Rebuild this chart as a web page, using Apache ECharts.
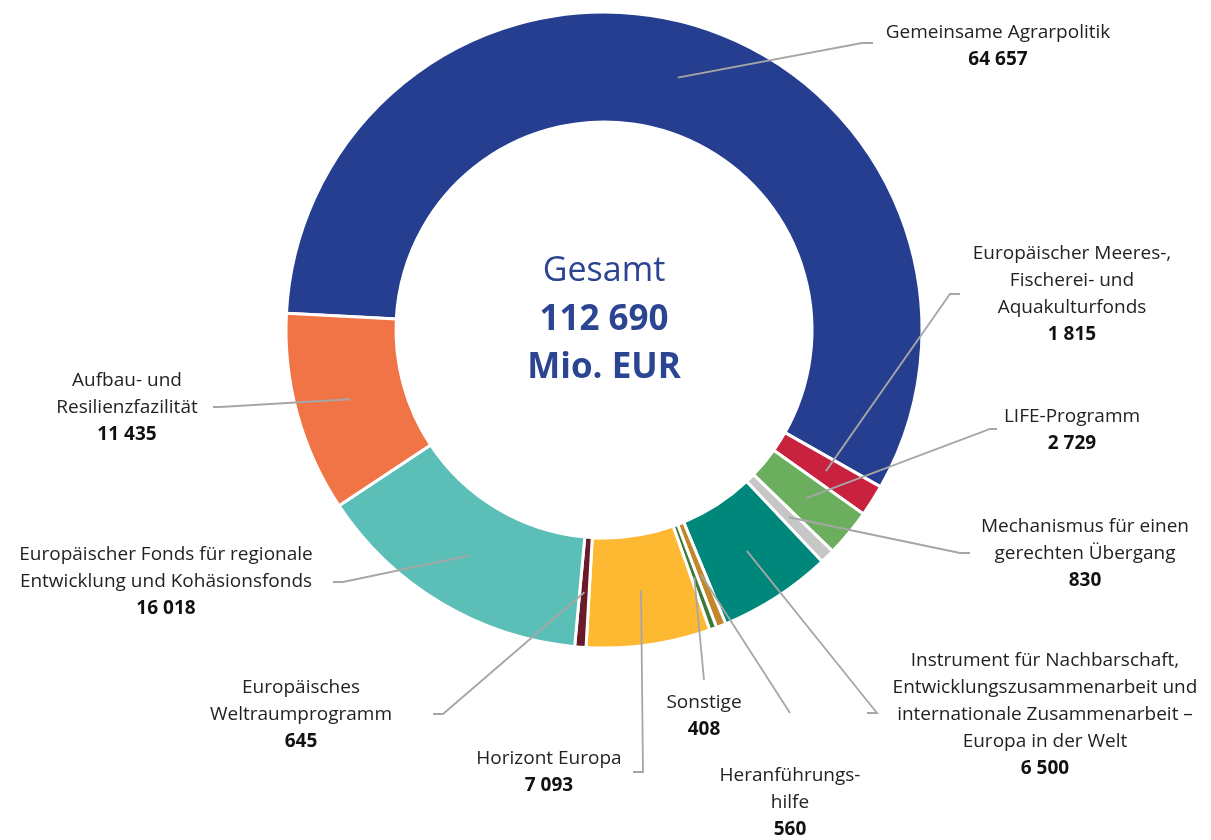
<!DOCTYPE html>
<html>
<head>
<meta charset="utf-8">
<script src="https://cdn.jsdelivr.net/npm/echarts@6/dist/echarts.min.js"></script>
<style>
  html, body { margin: 0; padding: 0; background: #fff; }
  #main { width: 1211px; height: 840px; }
</style>
</head>
<body>
<div id="main"></div>
<script>
// Daten (Mio. EUR), im Uhrzeigersinn ab "Gemeinsame Agrarpolitik"
var names = [
  'Gemeinsame Agrarpolitik',
  'Europäischer Meeres-,\nFischerei- und\nAquakulturfonds',
  'LIFE-Programm',
  'Mechanismus für einen\ngerechten Übergang',
  'Instrument für Nachbarschaft,\nEntwicklungszusammenarbeit und\ninternationale Zusammenarbeit –\nEuropa in der Welt',
  'Heranführungs-\nhilfe',
  'Sonstige',
  'Horizont Europa',
  'Europäisches\nWeltraumprogramm',
  'Europäischer Fonds für regionale\nEntwicklung und Kohäsionsfonds',
  'Aufbau- und\nResilienzfazilität'
];
var values = [64657, 1815, 2729, 830, 6500, 560, 408, 7093, 645, 16018, 11435];
var colors = ['#263E8F', '#C8223F', '#6AAE5E', '#C6C6C6', '#00877B', '#C3862A',
              '#3B7A3A', '#FDB932', '#6A1A28', '#5CBFB7', '#F07446'];

// Layout
var cx = 604, cy = 330, rIn = 208, rOut = 318, startAngle = 177;
var rLine = (rIn + rOut) / 2;
// Beschriftung: [x (Mitte), y (oben), Knick x, Knick y, Ende x, Ende y]
var labelPos = [
  [998, 19, 862, 43, 873, 43],
  [1072, 240, 950, 294, 960, 294],
  [1072, 403, 990, 429, 997, 429],
  [1085, 513, 960, 553, 970, 553],
  [1045, 647, 877, 713, 867, 713],
  [790, 762, 790, 713, 790, 713],
  [704, 689, 704, 680, 704, 680],
  [549, 745, 643, 772, 633, 772],
  [301, 674, 443, 714, 433, 714],
  [166, 541, 343, 582, 333, 582],
  [127, 367, 220, 407, 213, 407]
];

var total = values.reduce(function (a, b) { return a + b; }, 0);
function fmt(v) { return String(v).replace(/\B(?=(\d{3})+(?!\d))/g, ' '); }

function midAngle(i) {
  var before = 0;
  for (var k = 0; k < i; k++) before += values[k];
  var deg = startAngle - (before + values[i] / 2) / total * 360;
  return deg * Math.PI / 180;
}

var pieData = names.map(function (n, i) {
  return { name: n, value: values[i], itemStyle: { color: colors[i] } };
});
// gleiche Werte, unsichtbar, nur für Beschriftung + Linien über dem Ring
var labelData = names.map(function (n, i) {
  return { name: n, value: values[i] };
});

var myChart = echarts.init(document.getElementById('main'));
myChart.setOption({
  animation: false,
  graphic: [
    { type: 'text', x: cx, y: 271, style: { text: 'Gesamt', fill: '#2B4592', font: '34px "Open Sans"', textAlign: 'center', textVerticalAlign: 'middle' } },
    { type: 'text', x: cx, y: 320, style: { text: fmt(total), fill: '#2B4592', font: 'bold 35px "Open Sans"', textAlign: 'center', textVerticalAlign: 'middle' } },
    { type: 'text', x: cx, y: 368, style: { text: 'Mio. EUR', fill: '#2B4592', font: 'bold 35px "Open Sans"', textAlign: 'center', textVerticalAlign: 'middle' } }
  ],
  series: [
    {
      type: 'pie',
      z: 1,
      center: [cx, cy],
      radius: [rIn, rOut],
      startAngle: startAngle,
      clockwise: true,
      itemStyle: { borderColor: '#fff', borderWidth: 3 },
      label: { show: false },
      labelLine: { show: false },
      emphasis: { disabled: true },
      data: pieData
    },
    {
      type: 'pie',
      z: 5,
      center: [cx, cy],
      radius: [rIn, rOut],
      startAngle: startAngle,
      clockwise: true,
      avoidLabelOverlap: false,
      itemStyle: { color: 'rgba(0,0,0,0)', borderWidth: 0 },
      label: {
        show: true,
        position: 'outside',
        formatter: function (p) { return '{n|' + p.name + '}\n{v|' + fmt(p.value) + '}'; },
        rich: {
          n: { fontFamily: 'Open Sans', fontSize: 19, lineHeight: 27, color: '#222', align: 'center' },
          v: { fontFamily: 'Open Sans', fontSize: 19, fontWeight: 'bold', lineHeight: 27, color: '#111', align: 'center' }
        }
      },
      labelLine: { show: true, lineStyle: { color: '#A6A6A6', width: 1.8 } },
      labelLayout: function (params) {
        var i = params.dataIndex;
        var p = labelPos[i];
        var a = midAngle(i);
        var sx = cx + rLine * Math.cos(a);
        var sy = cy - rLine * Math.sin(a);
        return {
          x: p[0], y: p[1], align: 'center', verticalAlign: 'top',
          labelLinePoints: [[sx, sy], [p[2], p[3]], [p[4], p[5]]]
        };
      },
      emphasis: { disabled: true },
      data: labelData
    }
  ]
});
</script>
</body>
</html>
